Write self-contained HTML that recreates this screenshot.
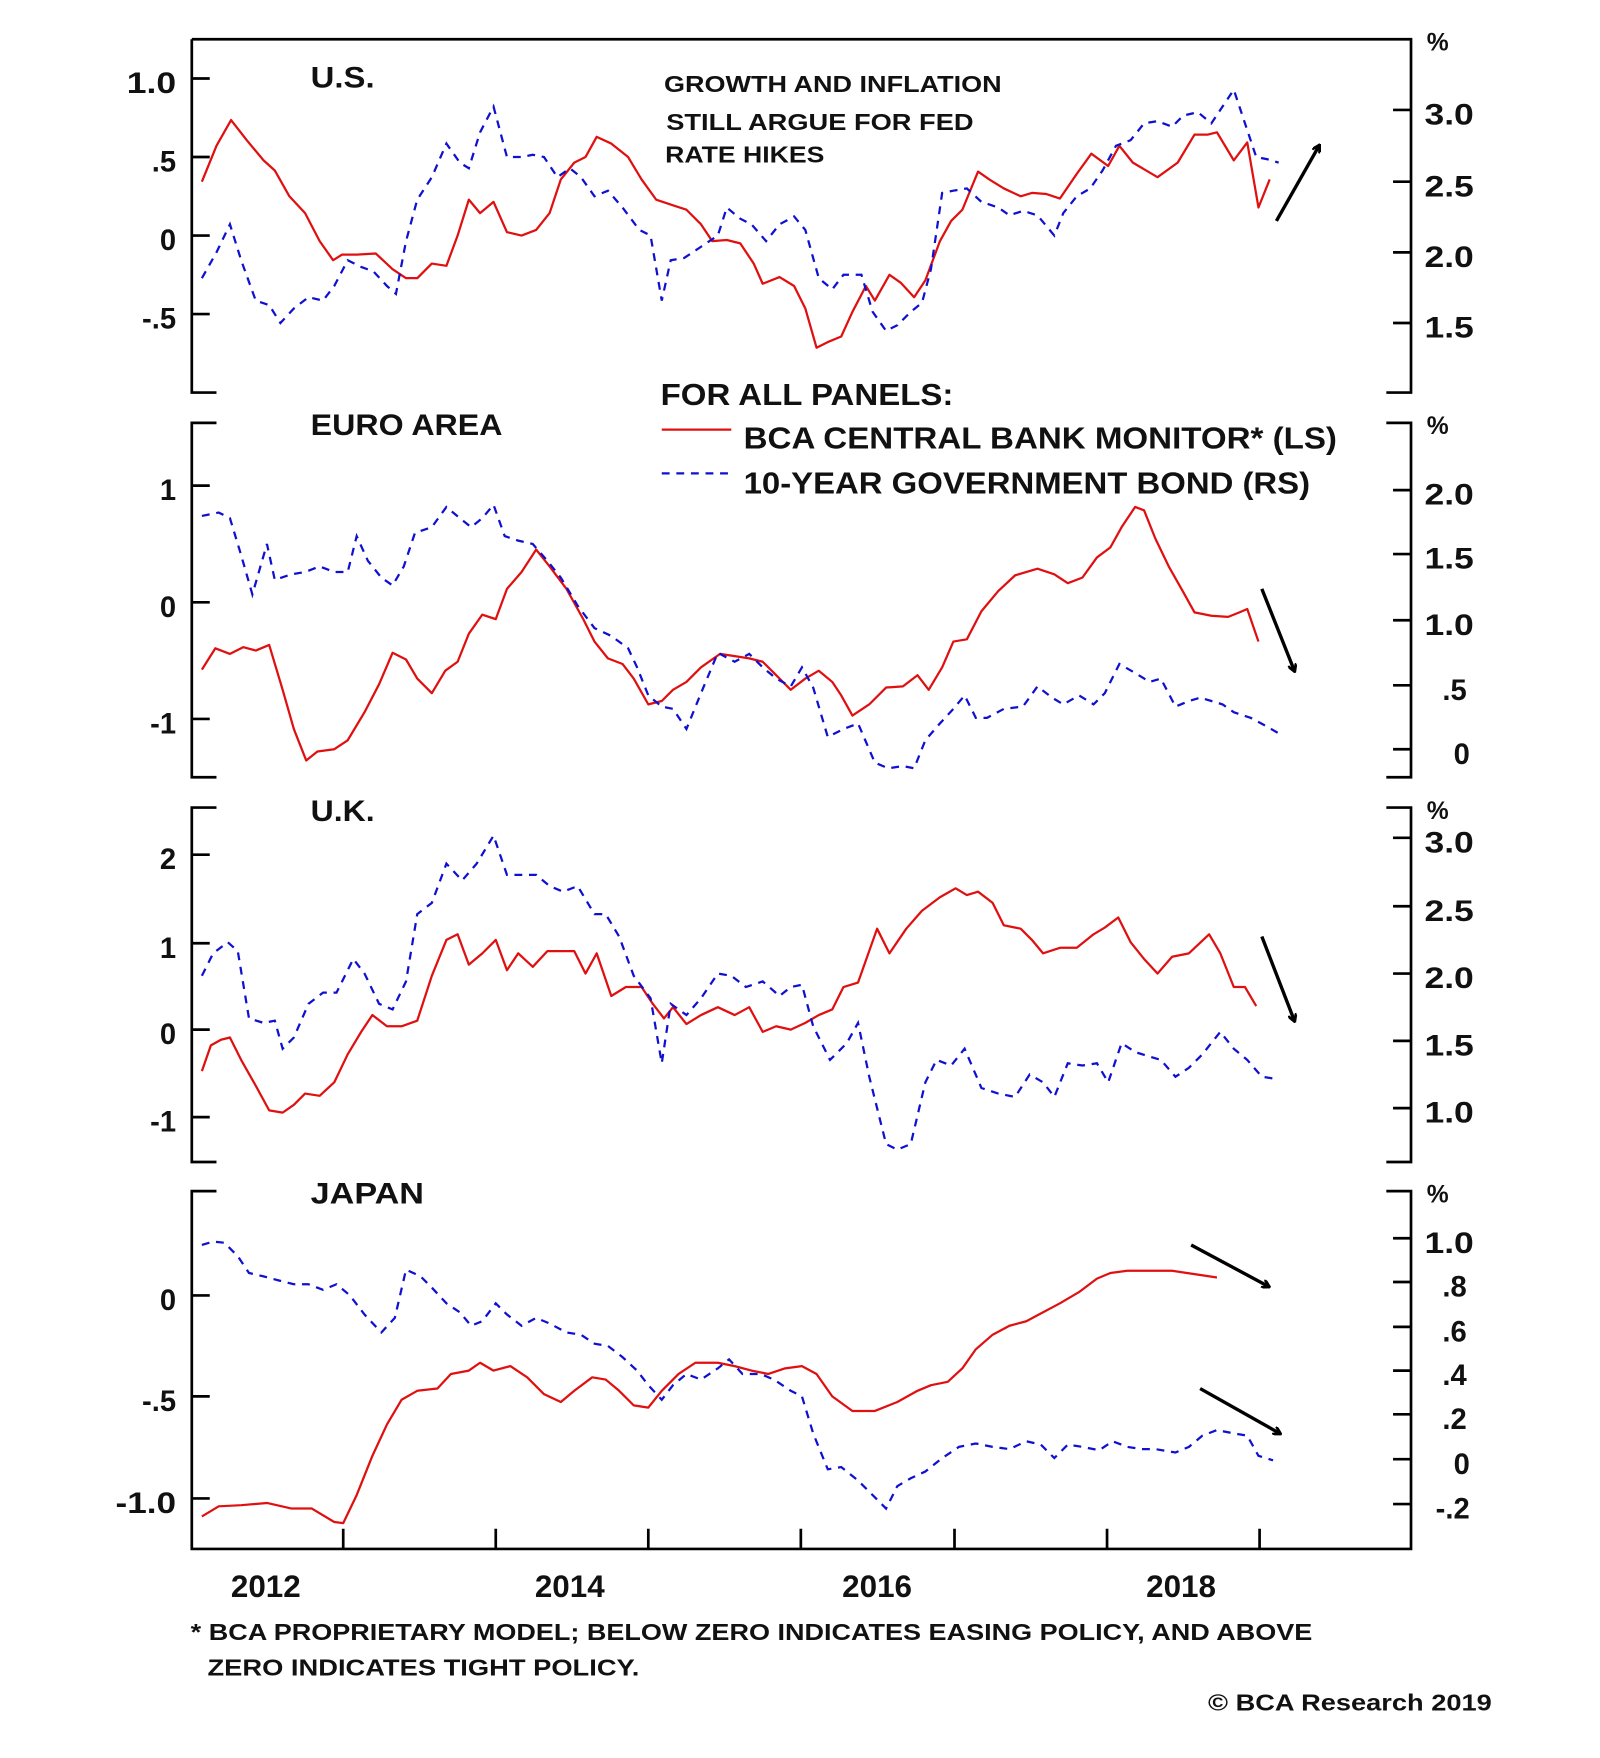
<!DOCTYPE html>
<html><head><meta charset="utf-8"><style>
html,body{margin:0;padding:0;background:#fff;}
svg{display:block;}
text{font-family:"Liberation Sans",Arial,sans-serif;font-weight:bold;fill:#111;}
.l{text-anchor:end;font-size:26px;}
.r{font-size:26px;}
.ax{stroke:#000;stroke-width:2.4;fill:none;}
.red{stroke:#e01010;stroke-width:2;fill:none;stroke-linejoin:round;}
.blue{stroke:#1010d0;stroke-width:2;fill:none;stroke-dasharray:7,6;}
.arr{stroke:#000;stroke-width:3;fill:none;}
</style></head><body>
<svg width="1600" height="1758" viewBox="0 0 1426.5 1567.4" preserveAspectRatio="none" xmlns="http://www.w3.org/2000/svg">
<defs><marker id="ah" markerWidth="8" markerHeight="8" refX="6" refY="4" orient="auto" markerUnits="userSpaceOnUse"><path d="M0,0 L7,4 L0,8" fill="none" stroke="#000" stroke-width="2.5"/></marker></defs>
<path class="ax" d="M171,35 H1258 V350 H1236 M171,35 V350 H193"/>
<path class="ax" d="M193,377 H171 V693 H193 M1236,377 H1258 V693 H1236"/>
<path class="ax" d="M193,720 H171 V1036 H193 M1236,720 H1258 V1036 H1236"/>
<path class="ax" d="M193,1062 H171 V1381 H1258 V1062 H1236"/>
<path class="ax" d="M171,70h16M171,140h16M171,210h16M171,280h16 M171,433h16M171,537h16M171,641h16 M171,762h16M171,841h16M171,918h16M171,996h16 M171,1155h16M171,1245h16M171,1336h16"/>
<path class="ax" d="M1242,98h16M1242,162h16M1242,225h16M1242,288h16 M1242,437h16M1242,494h16M1242,553h16M1242,611h16M1242,668h16 M1242,747h16M1242,808h16M1242,868h16M1242,928h16M1242,988h16 M1242,1104h16M1242,1143h16M1242,1183h16M1242,1222h16M1242,1261h16M1242,1301h16M1242,1341h16"/>
<path class="ax" d="M306,1363v18M442,1363v18M578,1363v18M714,1363v18M851,1363v18M987,1363v18M1123,1363v18"/>
<g class="l">
<text x="157" y="83" class="l" textLength="44" lengthAdjust="spacingAndGlyphs">1.0</text><text x="157" y="153" class="l">.5</text><text x="157" y="223" class="l">0</text><text x="157" y="293" class="l">-.5</text>
<text x="157" y="446" class="l">1</text><text x="157" y="550" class="l">0</text><text x="157" y="654" class="l">-1</text>
<text x="157" y="775" class="l">2</text><text x="157" y="854" class="l">1</text><text x="157" y="931" class="l">0</text><text x="157" y="1009" class="l">-1</text>
<text x="157" y="1168" class="l">0</text><text x="157" y="1258" class="l">-.5</text><text x="157" y="1349" class="l" textLength="54" lengthAdjust="spacingAndGlyphs">-1.0</text>
</g>
<text x="1272" y="45" style="font-size:22px">%</text>
<text x="1270" y="111" class="r" textLength="44" lengthAdjust="spacingAndGlyphs">3.0</text><text x="1270" y="175" class="r" textLength="44" lengthAdjust="spacingAndGlyphs">2.5</text><text x="1270" y="238" class="r" textLength="44" lengthAdjust="spacingAndGlyphs">2.0</text><text x="1270" y="301" class="r" textLength="44" lengthAdjust="spacingAndGlyphs">1.5</text>
<text x="1272" y="387" style="font-size:22px">%</text>
<text x="1270" y="450" class="r" textLength="44" lengthAdjust="spacingAndGlyphs">2.0</text><text x="1270" y="507" class="r" textLength="44" lengthAdjust="spacingAndGlyphs">1.5</text><text x="1270" y="566" class="r" textLength="44" lengthAdjust="spacingAndGlyphs">1.0</text><text x="1286" y="624" class="r">.5</text><text x="1296" y="681" class="r">0</text>
<text x="1272" y="730" style="font-size:22px">%</text>
<text x="1270" y="760" class="r" textLength="44" lengthAdjust="spacingAndGlyphs">3.0</text><text x="1270" y="821" class="r" textLength="44" lengthAdjust="spacingAndGlyphs">2.5</text><text x="1270" y="881" class="r" textLength="44" lengthAdjust="spacingAndGlyphs">2.0</text><text x="1270" y="941" class="r" textLength="44" lengthAdjust="spacingAndGlyphs">1.5</text><text x="1270" y="1001" class="r" textLength="44" lengthAdjust="spacingAndGlyphs">1.0</text>
<text x="1272" y="1072" style="font-size:22px">%</text>
<text x="1270" y="1117" class="r" textLength="44" lengthAdjust="spacingAndGlyphs">1.0</text><text x="1286" y="1156" class="r">.8</text><text x="1286" y="1196" class="r">.6</text><text x="1286" y="1235" class="r">.4</text><text x="1286" y="1274" class="r">.2</text><text x="1296" y="1314" class="r">0</text><text x="1280" y="1354" class="r">-.2</text>
<g style="font-size:28px;text-anchor:middle">
<text x="237" y="1424">2012</text><text x="508" y="1424">2014</text><text x="782" y="1424">2016</text><text x="1053" y="1424">2018</text>
</g>
<text x="277" y="78" style="font-size:26px" textLength="57" lengthAdjust="spacingAndGlyphs">U.S.</text>
<text x="277" y="388" style="font-size:26px" textLength="171" lengthAdjust="spacingAndGlyphs">EURO AREA</text>
<text x="277" y="732" style="font-size:26px" textLength="57" lengthAdjust="spacingAndGlyphs">U.K.</text>
<text x="277" y="1073" style="font-size:26px" textLength="101" lengthAdjust="spacingAndGlyphs">JAPAN</text>
<g style="font-size:21px">
<text x="592" y="82" textLength="301" lengthAdjust="spacingAndGlyphs">GROWTH AND INFLATION</text>
<text x="594" y="116" textLength="274" lengthAdjust="spacingAndGlyphs">STILL ARGUE FOR FED</text>
<text x="593" y="145" textLength="142" lengthAdjust="spacingAndGlyphs">RATE HIKES</text>
</g>
<text x="589" y="361" style="font-size:27px" textLength="261" lengthAdjust="spacingAndGlyphs">FOR ALL PANELS:</text>
<path class="red" d="M590,383H652"/>
<text x="663" y="400" style="font-size:27px" textLength="529" lengthAdjust="spacingAndGlyphs">BCA CENTRAL BANK MONITOR* (LS)</text>
<path class="blue" d="M590,422H652"/>
<text x="663" y="440" style="font-size:27px" textLength="505" lengthAdjust="spacingAndGlyphs">10-YEAR GOVERNMENT BOND (RS)</text>
<g style="font-size:21px">
<text x="170" y="1462" textLength="1000" lengthAdjust="spacingAndGlyphs">* BCA PROPRIETARY MODEL; BELOW ZERO INDICATES EASING POLICY, AND ABOVE</text>
<text x="185" y="1494" textLength="385" lengthAdjust="spacingAndGlyphs">ZERO INDICATES TIGHT POLICY.</text>
<text x="1077" y="1525" textLength="253" lengthAdjust="spacingAndGlyphs">© BCA Research 2019</text>
</g>
<polyline class="red" points="180,162 193,130 206,107 220,125 235,143 245,152 258,175 272,190 285,215 297,232 305,227 318,227 335,226 350,240 362,248 372,248 385,235 398,237 408,210 418,178 428,190 440,180 452,207 465,210 478,205 490,190 500,160 512,145 522,140 532,122 545,128 560,140 572,160 585,178 600,183 612,187 625,200 635,215 648,214 660,217 672,235 680,253 695,247 708,255 718,275 728,310 738,305 750,300 760,278 772,255 780,268 793,245 803,252 815,265 825,250 838,215 848,197 858,187 872,153 882,160 895,168 910,175 920,172 933,173 945,177 960,155 973,137 988,148 998,130 1010,145 1032,158 1050,145 1065,120 1077,120 1085,118 1100,143 1112,127 1122,185 1132,160"/>
<polyline class="blue" points="180,248 193,225 205,200 215,232 228,268 240,272 250,288 262,275 275,265 288,268 298,255 310,232 322,238 333,242 345,255 353,262 362,215 372,178 385,158 398,128 410,145 418,150 428,118 440,95 452,140 465,140 475,138 485,140 497,158 508,150 518,158 530,175 542,170 555,185 570,205 580,210 590,268 598,232 610,230 625,220 640,210 648,185 660,195 670,200 683,215 695,200 708,193 718,205 730,248 742,258 752,245 768,245 778,278 790,295 800,290 812,278 822,270 830,240 840,172 850,170 862,168 875,180 890,185 900,192 912,188 925,192 940,210 948,190 960,175 972,168 983,152 995,130 1008,125 1020,110 1032,108 1045,113 1055,103 1068,100 1080,110 1090,95 1100,80 1110,110 1120,140 1130,142 1140,145"/>
<polyline class="red" points="180,597 192,578 205,583 217,577 228,580 240,575 252,615 262,650 273,678 283,670 298,668 310,660 325,635 338,610 350,582 362,588 372,605 385,618 397,598 408,590 418,565 430,548 442,552 452,525 465,510 478,490 490,505 505,525 520,552 530,572 542,587 555,592 565,605 578,628 590,625 600,615 612,608 625,595 642,583 655,585 668,587 680,590 690,600 705,615 718,605 730,598 742,608 750,620 760,638 775,628 790,613 805,612 818,602 828,615 840,595 850,572 862,570 875,545 890,527 905,513 925,507 940,512 952,520 965,515 978,497 990,488 1000,470 1012,452 1020,455 1030,480 1042,505 1055,528 1065,546 1080,549 1095,550 1105,546 1112,543 1122,572"/>
<polyline class="blue" points="180,460 195,457 205,462 215,495 225,530 238,485 245,517 260,512 272,510 285,505 298,510 310,510 318,478 328,500 340,515 350,522 360,505 370,475 385,470 398,452 410,462 420,470 430,462 440,450 450,478 462,482 475,485 488,500 500,515 515,540 530,560 545,567 560,578 568,595 578,620 590,630 600,632 612,650 625,618 640,582 655,590 668,583 680,595 692,605 705,612 715,595 725,613 738,657 752,650 765,645 780,680 792,685 805,683 815,685 825,660 838,645 850,632 860,620 870,640 880,640 895,632 912,630 925,612 938,622 948,628 962,620 975,628 985,618 998,592 1012,600 1025,608 1035,605 1048,630 1060,625 1070,622 1080,625 1090,628 1100,635 1115,640 1130,648 1142,655"/>
<polyline class="red" points="180,955 188,932 197,927 205,925 215,945 228,968 240,990 252,992 262,985 272,975 285,977 298,965 310,940 322,920 332,905 345,915 358,915 372,910 385,870 398,838 408,833 418,860 430,850 442,838 452,865 462,850 475,862 488,848 500,848 512,848 522,868 532,850 545,888 558,880 572,880 582,895 592,908 600,898 612,913 625,905 640,898 655,905 668,898 680,920 692,915 705,918 718,912 730,905 742,900 752,880 765,876 782,828 793,850 808,828 822,812 838,800 852,792 862,798 872,795 885,805 895,825 910,828 920,838 930,850 945,845 960,845 975,833 985,827 997,818 1008,840 1020,855 1032,868 1045,853 1060,850 1078,833 1088,850 1100,880 1110,880 1120,897"/>
<polyline class="blue" points="180,870 190,850 203,840 212,848 222,908 235,912 245,910 252,935 262,925 275,895 288,885 300,885 315,855 325,868 338,895 350,900 362,875 372,815 385,805 398,770 412,785 425,770 440,745 452,780 465,780 478,780 490,790 502,795 515,790 530,815 540,815 552,835 565,870 580,890 590,948 598,895 612,905 625,890 640,868 652,870 665,880 680,875 695,888 705,880 715,878 725,915 740,945 755,930 765,912 775,960 790,1020 800,1025 812,1020 825,965 835,945 848,950 860,935 875,970 890,975 905,978 918,958 930,965 940,978 952,948 965,950 978,948 988,965 1000,930 1012,938 1025,942 1035,945 1048,960 1060,952 1072,940 1088,920 1100,935 1112,945 1125,960 1138,962"/>
<polyline class="red" points="180,1352 195,1343 215,1342 238,1340 260,1345 278,1345 298,1357 306,1358 318,1333 332,1298 345,1270 358,1248 372,1240 390,1238 402,1225 418,1222 428,1215 440,1222 455,1218 470,1228 485,1243 500,1250 512,1240 528,1228 540,1230 552,1240 565,1253 578,1255 590,1240 605,1225 620,1215 640,1215 655,1218 670,1222 685,1225 700,1220 715,1218 728,1225 742,1245 760,1258 780,1258 800,1250 818,1240 830,1235 845,1232 858,1220 870,1203 885,1190 900,1182 915,1178 930,1170 945,1162 962,1152 978,1140 990,1135 1005,1133 1025,1133 1045,1133 1065,1136 1085,1139"/>
<polyline class="blue" points="180,1110 190,1107 200,1108 212,1120 222,1135 235,1138 250,1142 262,1145 275,1145 288,1150 300,1145 312,1155 325,1172 340,1188 352,1175 362,1132 375,1138 385,1148 398,1162 410,1170 420,1182 430,1178 442,1162 452,1172 465,1182 478,1175 490,1180 505,1188 518,1190 530,1198 542,1200 555,1210 568,1222 578,1235 590,1248 600,1235 612,1225 625,1230 640,1220 650,1212 662,1225 678,1225 690,1230 705,1240 715,1245 725,1278 738,1310 750,1308 765,1320 780,1335 790,1345 800,1325 812,1318 825,1312 840,1300 855,1290 870,1287 885,1290 900,1292 915,1285 928,1288 940,1300 952,1288 965,1290 980,1293 992,1285 1005,1290 1018,1292 1030,1292 1048,1295 1060,1290 1072,1280 1085,1275 1100,1278 1112,1280 1122,1298 1135,1302"/>
<path class="arr" d="M1138,197 L1176,130" marker-end="url(#ah)"/>
<path class="arr" d="M1125,525 L1154,598" marker-end="url(#ah)"/>
<path class="arr" d="M1125,835 L1154,910" marker-end="url(#ah)"/>
<path class="arr" d="M1062,1110 L1131,1147" marker-end="url(#ah)"/>
<path class="arr" d="M1070,1238 L1141,1278" marker-end="url(#ah)"/>
</svg>
</body></html>
